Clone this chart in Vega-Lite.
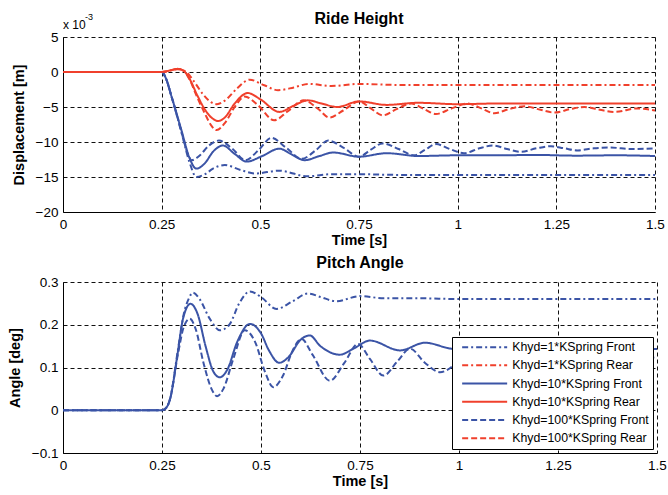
{
"$schema":"https://vega.github.io/schema/vega-lite/v6.json",
"padding":{"top":11,"left":7,"right":6,"bottom":5},
"spacing":8,
"config":{
 "font":"Liberation Sans",
 "view":{"stroke":null},
 "axis":{"labelFont":"Liberation Sans","labelFontSize":13.5,"labelColor":"#000","titleFont":"Liberation Sans","titleFontSize":14.5,"titleFontWeight":"bold","titleColor":"#000","domainColor":"#000","domainWidth":1,"gridColor":"#111","gridDash":[4,3],"gridOpacity":1,"gridWidth":1,"ticks":false,"labelPadding":5,"labelFlush":false},
 "axisX":{"titlePadding":3},
 "axisY":{"titlePadding":9},
 "title":{"font":"Liberation Sans","color":"#000"}
},
"datasets":{
 "ride":[
  {"t":0,"v":0,"s":"Khyd=1*KSpring Front"},{"t":0.25,"v":0,"s":"Khyd=1*KSpring Front"},{"t":0.26,"v":-0.8,"s":"Khyd=1*KSpring Front"},{"t":0.275,"v":-3.5,"s":"Khyd=1*KSpring Front"},{"t":0.3,"v":-8.6,"s":"Khyd=1*KSpring Front"},{"t":0.32,"v":-12.8,"s":"Khyd=1*KSpring Front"},{"t":0.338,"v":-15.0,"s":"Khyd=1*KSpring Front"},{"t":0.36,"v":-14.6,"s":"Khyd=1*KSpring Front"},{"t":0.38,"v":-13.8,"s":"Khyd=1*KSpring Front"},{"t":0.41,"v":-13.3,"s":"Khyd=1*KSpring Front"},{"t":0.45,"v":-14.0,"s":"Khyd=1*KSpring Front"},{"t":0.487,"v":-14.5,"s":"Khyd=1*KSpring Front"},{"t":0.547,"v":-14.1,"s":"Khyd=1*KSpring Front"},{"t":0.62,"v":-14.9,"s":"Khyd=1*KSpring Front"},{"t":0.68,"v":-14.6,"s":"Khyd=1*KSpring Front"},{"t":0.75,"v":-14.6,"s":"Khyd=1*KSpring Front"},{"t":0.85,"v":-14.7,"s":"Khyd=1*KSpring Front"},{"t":1.0,"v":-14.7,"s":"Khyd=1*KSpring Front"},{"t":1.25,"v":-14.7,"s":"Khyd=1*KSpring Front"},{"t":1.5,"v":-14.7,"s":"Khyd=1*KSpring Front"},

  {"t":0,"v":0,"s":"Khyd=1*KSpring Rear"},{"t":0.25,"v":0,"s":"Khyd=1*KSpring Rear"},{"t":0.27,"v":0.2,"s":"Khyd=1*KSpring Rear"},{"t":0.29,"v":0.4,"s":"Khyd=1*KSpring Rear"},{"t":0.31,"v":0.1,"s":"Khyd=1*KSpring Rear"},{"t":0.33,"v":-1.2,"s":"Khyd=1*KSpring Rear"},{"t":0.355,"v":-3.2,"s":"Khyd=1*KSpring Rear"},{"t":0.375,"v":-4.3,"s":"Khyd=1*KSpring Rear"},{"t":0.39,"v":-4.6,"s":"Khyd=1*KSpring Rear"},{"t":0.41,"v":-4.1,"s":"Khyd=1*KSpring Rear"},{"t":0.44,"v":-2.4,"s":"Khyd=1*KSpring Rear"},{"t":0.473,"v":-1.1,"s":"Khyd=1*KSpring Rear"},{"t":0.51,"v":-1.9,"s":"Khyd=1*KSpring Rear"},{"t":0.545,"v":-2.6,"s":"Khyd=1*KSpring Rear"},{"t":0.585,"v":-2.2,"s":"Khyd=1*KSpring Rear"},{"t":0.623,"v":-1.7,"s":"Khyd=1*KSpring Rear"},{"t":0.68,"v":-2.0,"s":"Khyd=1*KSpring Rear"},{"t":0.75,"v":-1.7,"s":"Khyd=1*KSpring Rear"},{"t":0.85,"v":-1.85,"s":"Khyd=1*KSpring Rear"},{"t":1.0,"v":-1.85,"s":"Khyd=1*KSpring Rear"},{"t":1.25,"v":-1.85,"s":"Khyd=1*KSpring Rear"},{"t":1.5,"v":-1.85,"s":"Khyd=1*KSpring Rear"},

  {"t":0,"v":0,"s":"Khyd=10*KSpring Front"},{"t":0.25,"v":0,"s":"Khyd=10*KSpring Front"},{"t":0.26,"v":-0.8,"s":"Khyd=10*KSpring Front"},{"t":0.275,"v":-3.5,"s":"Khyd=10*KSpring Front"},{"t":0.3,"v":-8.3,"s":"Khyd=10*KSpring Front"},{"t":0.32,"v":-12.2,"s":"Khyd=10*KSpring Front"},{"t":0.338,"v":-13.8,"s":"Khyd=10*KSpring Front"},{"t":0.36,"v":-13.0,"s":"Khyd=10*KSpring Front"},{"t":0.38,"v":-11.4,"s":"Khyd=10*KSpring Front"},{"t":0.405,"v":-10.5,"s":"Khyd=10*KSpring Front"},{"t":0.435,"v":-11.7,"s":"Khyd=10*KSpring Front"},{"t":0.465,"v":-12.8,"s":"Khyd=10*KSpring Front"},{"t":0.505,"v":-12.0,"s":"Khyd=10*KSpring Front"},{"t":0.548,"v":-10.95,"s":"Khyd=10*KSpring Front"},{"t":0.58,"v":-11.8,"s":"Khyd=10*KSpring Front"},{"t":0.612,"v":-12.6,"s":"Khyd=10*KSpring Front"},{"t":0.65,"v":-12.0,"s":"Khyd=10*KSpring Front"},{"t":0.685,"v":-11.5,"s":"Khyd=10*KSpring Front"},{"t":0.75,"v":-12.1,"s":"Khyd=10*KSpring Front"},{"t":0.82,"v":-11.6,"s":"Khyd=10*KSpring Front"},{"t":0.9,"v":-12.0,"s":"Khyd=10*KSpring Front"},{"t":1.0,"v":-11.9,"s":"Khyd=10*KSpring Front"},{"t":1.1,"v":-11.9,"s":"Khyd=10*KSpring Front"},{"t":1.2,"v":-11.85,"s":"Khyd=10*KSpring Front"},{"t":1.3,"v":-11.95,"s":"Khyd=10*KSpring Front"},{"t":1.4,"v":-11.9,"s":"Khyd=10*KSpring Front"},{"t":1.5,"v":-12.0,"s":"Khyd=10*KSpring Front"},

  {"t":0,"v":0,"s":"Khyd=10*KSpring Rear"},{"t":0.25,"v":0,"s":"Khyd=10*KSpring Rear"},{"t":0.27,"v":0.2,"s":"Khyd=10*KSpring Rear"},{"t":0.29,"v":0.45,"s":"Khyd=10*KSpring Rear"},{"t":0.305,"v":0.2,"s":"Khyd=10*KSpring Rear"},{"t":0.32,"v":-0.9,"s":"Khyd=10*KSpring Rear"},{"t":0.34,"v":-3.3,"s":"Khyd=10*KSpring Rear"},{"t":0.36,"v":-5.4,"s":"Khyd=10*KSpring Rear"},{"t":0.378,"v":-6.6,"s":"Khyd=10*KSpring Rear"},{"t":0.393,"v":-7.0,"s":"Khyd=10*KSpring Rear"},{"t":0.41,"v":-6.5,"s":"Khyd=10*KSpring Rear"},{"t":0.435,"v":-4.5,"s":"Khyd=10*KSpring Rear"},{"t":0.468,"v":-3.0,"s":"Khyd=10*KSpring Rear"},{"t":0.5,"v":-3.9,"s":"Khyd=10*KSpring Rear"},{"t":0.548,"v":-5.7,"s":"Khyd=10*KSpring Rear"},{"t":0.585,"v":-4.8,"s":"Khyd=10*KSpring Rear"},{"t":0.62,"v":-4.05,"s":"Khyd=10*KSpring Rear"},{"t":0.655,"v":-4.5,"s":"Khyd=10*KSpring Rear"},{"t":0.695,"v":-5.0,"s":"Khyd=10*KSpring Rear"},{"t":0.75,"v":-4.2,"s":"Khyd=10*KSpring Rear"},{"t":0.82,"v":-4.7,"s":"Khyd=10*KSpring Rear"},{"t":0.9,"v":-4.4,"s":"Khyd=10*KSpring Rear"},{"t":1.0,"v":-4.6,"s":"Khyd=10*KSpring Rear"},{"t":1.1,"v":-4.5,"s":"Khyd=10*KSpring Rear"},{"t":1.25,"v":-4.5,"s":"Khyd=10*KSpring Rear"},{"t":1.5,"v":-4.5,"s":"Khyd=10*KSpring Rear"},

  {"t":0,"v":0,"s":"Khyd=100*KSpring Front"},{"t":0.25,"v":0,"s":"Khyd=100*KSpring Front"},{"t":0.26,"v":-0.8,"s":"Khyd=100*KSpring Front"},{"t":0.275,"v":-3.5,"s":"Khyd=100*KSpring Front"},{"t":0.3,"v":-8.5,"s":"Khyd=100*KSpring Front"},{"t":0.315,"v":-11.5,"s":"Khyd=100*KSpring Front"},{"t":0.326,"v":-12.6,"s":"Khyd=100*KSpring Front"},{"t":0.345,"v":-12.0,"s":"Khyd=100*KSpring Front"},{"t":0.37,"v":-10.5,"s":"Khyd=100*KSpring Front"},{"t":0.395,"v":-9.8,"s":"Khyd=100*KSpring Front"},{"t":0.43,"v":-11.0,"s":"Khyd=100*KSpring Front"},{"t":0.462,"v":-12.6,"s":"Khyd=100*KSpring Front"},{"t":0.495,"v":-11.2,"s":"Khyd=100*KSpring Front"},{"t":0.528,"v":-9.4,"s":"Khyd=100*KSpring Front"},{"t":0.565,"v":-10.8,"s":"Khyd=100*KSpring Front"},{"t":0.605,"v":-12.4,"s":"Khyd=100*KSpring Front"},{"t":0.64,"v":-11.2,"s":"Khyd=100*KSpring Front"},{"t":0.672,"v":-9.8,"s":"Khyd=100*KSpring Front"},{"t":0.71,"v":-10.8,"s":"Khyd=100*KSpring Front"},{"t":0.75,"v":-12.1,"s":"Khyd=100*KSpring Front"},{"t":0.78,"v":-11.1,"s":"Khyd=100*KSpring Front"},{"t":0.81,"v":-10.2,"s":"Khyd=100*KSpring Front"},{"t":0.85,"v":-11.0,"s":"Khyd=100*KSpring Front"},{"t":0.89,"v":-11.9,"s":"Khyd=100*KSpring Front"},{"t":0.918,"v":-11.1,"s":"Khyd=100*KSpring Front"},{"t":0.945,"v":-10.3,"s":"Khyd=100*KSpring Front"},{"t":0.98,"v":-11.0,"s":"Khyd=100*KSpring Front"},{"t":1.016,"v":-11.6,"s":"Khyd=100*KSpring Front"},{"t":1.055,"v":-10.9,"s":"Khyd=100*KSpring Front"},{"t":1.09,"v":-10.5,"s":"Khyd=100*KSpring Front"},{"t":1.125,"v":-11.0,"s":"Khyd=100*KSpring Front"},{"t":1.16,"v":-11.4,"s":"Khyd=100*KSpring Front"},{"t":1.2,"v":-10.9,"s":"Khyd=100*KSpring Front"},{"t":1.236,"v":-10.6,"s":"Khyd=100*KSpring Front"},{"t":1.27,"v":-10.9,"s":"Khyd=100*KSpring Front"},{"t":1.304,"v":-11.2,"s":"Khyd=100*KSpring Front"},{"t":1.345,"v":-10.9,"s":"Khyd=100*KSpring Front"},{"t":1.388,"v":-10.8,"s":"Khyd=100*KSpring Front"},{"t":1.44,"v":-11.0,"s":"Khyd=100*KSpring Front"},{"t":1.5,"v":-10.9,"s":"Khyd=100*KSpring Front"},

  {"t":0,"v":0,"s":"Khyd=100*KSpring Rear"},{"t":0.25,"v":0,"s":"Khyd=100*KSpring Rear"},{"t":0.27,"v":0.2,"s":"Khyd=100*KSpring Rear"},{"t":0.29,"v":0.45,"s":"Khyd=100*KSpring Rear"},{"t":0.305,"v":0.2,"s":"Khyd=100*KSpring Rear"},{"t":0.32,"v":-1.0,"s":"Khyd=100*KSpring Rear"},{"t":0.34,"v":-3.6,"s":"Khyd=100*KSpring Rear"},{"t":0.36,"v":-6.0,"s":"Khyd=100*KSpring Rear"},{"t":0.375,"v":-7.6,"s":"Khyd=100*KSpring Rear"},{"t":0.389,"v":-8.3,"s":"Khyd=100*KSpring Rear"},{"t":0.41,"v":-7.3,"s":"Khyd=100*KSpring Rear"},{"t":0.435,"v":-5.0,"s":"Khyd=100*KSpring Rear"},{"t":0.46,"v":-3.5,"s":"Khyd=100*KSpring Rear"},{"t":0.495,"v":-4.8,"s":"Khyd=100*KSpring Rear"},{"t":0.535,"v":-6.9,"s":"Khyd=100*KSpring Rear"},{"t":0.57,"v":-5.6,"s":"Khyd=100*KSpring Rear"},{"t":0.61,"v":-4.05,"s":"Khyd=100*KSpring Rear"},{"t":0.645,"v":-5.2,"s":"Khyd=100*KSpring Rear"},{"t":0.675,"v":-6.5,"s":"Khyd=100*KSpring Rear"},{"t":0.71,"v":-5.5,"s":"Khyd=100*KSpring Rear"},{"t":0.75,"v":-4.2,"s":"Khyd=100*KSpring Rear"},{"t":0.78,"v":-5.2,"s":"Khyd=100*KSpring Rear"},{"t":0.81,"v":-6.2,"s":"Khyd=100*KSpring Rear"},{"t":0.845,"v":-5.3,"s":"Khyd=100*KSpring Rear"},{"t":0.882,"v":-4.5,"s":"Khyd=100*KSpring Rear"},{"t":0.915,"v":-5.3,"s":"Khyd=100*KSpring Rear"},{"t":0.945,"v":-6.0,"s":"Khyd=100*KSpring Rear"},{"t":0.985,"v":-5.2,"s":"Khyd=100*KSpring Rear"},{"t":1.025,"v":-4.5,"s":"Khyd=100*KSpring Rear"},{"t":1.06,"v":-5.2,"s":"Khyd=100*KSpring Rear"},{"t":1.093,"v":-5.9,"s":"Khyd=100*KSpring Rear"},{"t":1.13,"v":-5.3,"s":"Khyd=100*KSpring Rear"},{"t":1.169,"v":-4.9,"s":"Khyd=100*KSpring Rear"},{"t":1.21,"v":-5.4,"s":"Khyd=100*KSpring Rear"},{"t":1.245,"v":-5.8,"s":"Khyd=100*KSpring Rear"},{"t":1.285,"v":-5.3,"s":"Khyd=100*KSpring Rear"},{"t":1.321,"v":-5.0,"s":"Khyd=100*KSpring Rear"},{"t":1.36,"v":-5.4,"s":"Khyd=100*KSpring Rear"},{"t":1.397,"v":-5.7,"s":"Khyd=100*KSpring Rear"},{"t":1.456,"v":-5.2,"s":"Khyd=100*KSpring Rear"},{"t":1.5,"v":-5.5,"s":"Khyd=100*KSpring Rear"}
 ],
 "pitch":[
  {"t":0,"v":0,"s":"Khyd=1*KSpring Front"},{"t":0.25,"v":0,"s":"Khyd=1*KSpring Front"},{"t":0.26,"v":0.005,"s":"Khyd=1*KSpring Front"},{"t":0.27,"v":0.025,"s":"Khyd=1*KSpring Front"},{"t":0.29,"v":0.14,"s":"Khyd=1*KSpring Front"},{"t":0.305,"v":0.225,"s":"Khyd=1*KSpring Front"},{"t":0.318,"v":0.262,"s":"Khyd=1*KSpring Front"},{"t":0.328,"v":0.275,"s":"Khyd=1*KSpring Front"},{"t":0.345,"v":0.26,"s":"Khyd=1*KSpring Front"},{"t":0.37,"v":0.215,"s":"Khyd=1*KSpring Front"},{"t":0.396,"v":0.187,"s":"Khyd=1*KSpring Front"},{"t":0.42,"v":0.2,"s":"Khyd=1*KSpring Front"},{"t":0.445,"v":0.25,"s":"Khyd=1*KSpring Front"},{"t":0.472,"v":0.278,"s":"Khyd=1*KSpring Front"},{"t":0.5,"v":0.265,"s":"Khyd=1*KSpring Front"},{"t":0.539,"v":0.237,"s":"Khyd=1*KSpring Front"},{"t":0.58,"v":0.255,"s":"Khyd=1*KSpring Front"},{"t":0.619,"v":0.273,"s":"Khyd=1*KSpring Front"},{"t":0.65,"v":0.265,"s":"Khyd=1*KSpring Front"},{"t":0.69,"v":0.255,"s":"Khyd=1*KSpring Front"},{"t":0.75,"v":0.267,"s":"Khyd=1*KSpring Front"},{"t":0.81,"v":0.262,"s":"Khyd=1*KSpring Front"},{"t":0.9,"v":0.262,"s":"Khyd=1*KSpring Front"},{"t":1.0,"v":0.26,"s":"Khyd=1*KSpring Front"},{"t":1.25,"v":0.26,"s":"Khyd=1*KSpring Front"},{"t":1.5,"v":0.26,"s":"Khyd=1*KSpring Front"},

  {"t":0,"v":0,"s":"Khyd=10*KSpring Front"},{"t":0.25,"v":0,"s":"Khyd=10*KSpring Front"},{"t":0.26,"v":0.005,"s":"Khyd=10*KSpring Front"},{"t":0.27,"v":0.025,"s":"Khyd=10*KSpring Front"},{"t":0.29,"v":0.136,"s":"Khyd=10*KSpring Front"},{"t":0.303,"v":0.214,"s":"Khyd=10*KSpring Front"},{"t":0.322,"v":0.249,"s":"Khyd=10*KSpring Front"},{"t":0.34,"v":0.225,"s":"Khyd=10*KSpring Front"},{"t":0.36,"v":0.15,"s":"Khyd=10*KSpring Front"},{"t":0.38,"v":0.09,"s":"Khyd=10*KSpring Front"},{"t":0.396,"v":0.077,"s":"Khyd=10*KSpring Front"},{"t":0.415,"v":0.095,"s":"Khyd=10*KSpring Front"},{"t":0.44,"v":0.16,"s":"Khyd=10*KSpring Front"},{"t":0.472,"v":0.202,"s":"Khyd=10*KSpring Front"},{"t":0.5,"v":0.18,"s":"Khyd=10*KSpring Front"},{"t":0.52,"v":0.14,"s":"Khyd=10*KSpring Front"},{"t":0.546,"v":0.111,"s":"Khyd=10*KSpring Front"},{"t":0.57,"v":0.125,"s":"Khyd=10*KSpring Front"},{"t":0.6,"v":0.165,"s":"Khyd=10*KSpring Front"},{"t":0.623,"v":0.175,"s":"Khyd=10*KSpring Front"},{"t":0.65,"v":0.15,"s":"Khyd=10*KSpring Front"},{"t":0.699,"v":0.13,"s":"Khyd=10*KSpring Front"},{"t":0.735,"v":0.145,"s":"Khyd=10*KSpring Front"},{"t":0.775,"v":0.163,"s":"Khyd=10*KSpring Front"},{"t":0.851,"v":0.14,"s":"Khyd=10*KSpring Front"},{"t":0.914,"v":0.158,"s":"Khyd=10*KSpring Front"},{"t":0.98,"v":0.144,"s":"Khyd=10*KSpring Front"},{"t":1.05,"v":0.14,"s":"Khyd=10*KSpring Front"},{"t":1.12,"v":0.147,"s":"Khyd=10*KSpring Front"},{"t":1.2,"v":0.142,"s":"Khyd=10*KSpring Front"},{"t":1.3,"v":0.144,"s":"Khyd=10*KSpring Front"},{"t":1.4,"v":0.143,"s":"Khyd=10*KSpring Front"},{"t":1.5,"v":0.143,"s":"Khyd=10*KSpring Front"},

  {"t":0,"v":0,"s":"Khyd=100*KSpring Front"},{"t":0.25,"v":0,"s":"Khyd=100*KSpring Front"},{"t":0.26,"v":0.005,"s":"Khyd=100*KSpring Front"},{"t":0.27,"v":0.025,"s":"Khyd=100*KSpring Front"},{"t":0.29,"v":0.13,"s":"Khyd=100*KSpring Front"},{"t":0.305,"v":0.195,"s":"Khyd=100*KSpring Front"},{"t":0.32,"v":0.214,"s":"Khyd=100*KSpring Front"},{"t":0.335,"v":0.19,"s":"Khyd=100*KSpring Front"},{"t":0.355,"v":0.11,"s":"Khyd=100*KSpring Front"},{"t":0.375,"v":0.05,"s":"Khyd=100*KSpring Front"},{"t":0.389,"v":0.033,"s":"Khyd=100*KSpring Front"},{"t":0.405,"v":0.05,"s":"Khyd=100*KSpring Front"},{"t":0.43,"v":0.12,"s":"Khyd=100*KSpring Front"},{"t":0.459,"v":0.187,"s":"Khyd=100*KSpring Front"},{"t":0.485,"v":0.16,"s":"Khyd=100*KSpring Front"},{"t":0.51,"v":0.09,"s":"Khyd=100*KSpring Front"},{"t":0.531,"v":0.054,"s":"Khyd=100*KSpring Front"},{"t":0.555,"v":0.08,"s":"Khyd=100*KSpring Front"},{"t":0.58,"v":0.14,"s":"Khyd=100*KSpring Front"},{"t":0.602,"v":0.167,"s":"Khyd=100*KSpring Front"},{"t":0.63,"v":0.13,"s":"Khyd=100*KSpring Front"},{"t":0.674,"v":0.069,"s":"Khyd=100*KSpring Front"},{"t":0.71,"v":0.11,"s":"Khyd=100*KSpring Front"},{"t":0.745,"v":0.155,"s":"Khyd=100*KSpring Front"},{"t":0.775,"v":0.12,"s":"Khyd=100*KSpring Front"},{"t":0.809,"v":0.081,"s":"Khyd=100*KSpring Front"},{"t":0.845,"v":0.115,"s":"Khyd=100*KSpring Front"},{"t":0.876,"v":0.144,"s":"Khyd=100*KSpring Front"},{"t":0.915,"v":0.11,"s":"Khyd=100*KSpring Front"},{"t":0.952,"v":0.089,"s":"Khyd=100*KSpring Front"},{"t":0.986,"v":0.105,"s":"Khyd=100*KSpring Front"},{"t":1.02,"v":0.14,"s":"Khyd=100*KSpring Front"},{"t":1.09,"v":0.1,"s":"Khyd=100*KSpring Front"},{"t":1.16,"v":0.135,"s":"Khyd=100*KSpring Front"},{"t":1.23,"v":0.11,"s":"Khyd=100*KSpring Front"},{"t":1.3,"v":0.13,"s":"Khyd=100*KSpring Front"},{"t":1.37,"v":0.115,"s":"Khyd=100*KSpring Front"},{"t":1.44,"v":0.128,"s":"Khyd=100*KSpring Front"},{"t":1.5,"v":0.122,"s":"Khyd=100*KSpring Front"}
 ]
},
"vconcat":[
 {
  "title":{"text":"Ride Height","fontSize":16,"fontWeight":"bold","frame":"group","baseline":"alphabetic","offset":-27},
  "width":592,"height":175,
  "encoding":{
   "x":{"field":"t","type":"quantitative","scale":{"domain":[0,1.5],"nice":false},"axis":{"title":"Time [s]","values":[0,0.25,0.5,0.75,1,1.25,1.5],"format":".3~g"}},
   "y":{"field":"v","type":"quantitative","scale":{"domain":[-20,5],"nice":false},"axis":{"title":"Displacement [m]","values":[-20,-15,-10,-5,0,5],"format":".3~g"}}
  },
  "layer":[
   {"data":{"name":"ride"},"mark":{"type":"line","strokeWidth":2,"interpolate":"monotone"},
    "encoding":{
     "color":{"field":"s","type":"nominal","legend":null,"scale":{"domain":["Khyd=1*KSpring Front","Khyd=1*KSpring Rear","Khyd=10*KSpring Front","Khyd=10*KSpring Rear","Khyd=100*KSpring Front","Khyd=100*KSpring Rear"],"range":["#3b54a6","#f0402c","#3b54a6","#f0402c","#3b54a6","#f0402c"]}},
     "strokeDash":{"field":"s","type":"nominal","legend":null,"scale":{"domain":["Khyd=1*KSpring Front","Khyd=1*KSpring Rear","Khyd=10*KSpring Front","Khyd=10*KSpring Rear","Khyd=100*KSpring Front","Khyd=100*KSpring Rear"],"range":[[6,3,2,3],[6,3,2,3],[1,0],[1,0],[6,3],[6,3]]}}
    }},
   {"data":{"values":[{"t":0,"v":5,"lab":"x 10"}]},"mark":{"type":"text","align":"left","baseline":"alphabetic","fontSize":12,"dy":-8,"dx":0,"color":"#000"},"encoding":{"text":{"field":"lab"}}},
   {"data":{"values":[{"t":0,"v":5,"lab":"-3"}]},"mark":{"type":"text","align":"left","baseline":"alphabetic","fontSize":9,"dy":-17,"dx":22,"color":"#000"},"encoding":{"text":{"field":"lab"}}}
  ]
 },
 {
  "title":{"text":"Pitch Angle","fontSize":16,"fontWeight":"bold","frame":"group","baseline":"alphabetic","offset":-9},
  "width":594,"height":171,
  "data":{"name":"pitch"},
  "mark":{"type":"line","strokeWidth":2,"interpolate":"monotone"},
  "encoding":{
   "x":{"field":"t","type":"quantitative","scale":{"domain":[0,1.5],"nice":false},"axis":{"title":"Time [s]","values":[0,0.25,0.5,0.75,1,1.25,1.5],"format":".3~g"}},
   "y":{"field":"v","type":"quantitative","scale":{"domain":[-0.1,0.3],"nice":false},"axis":{"title":"Angle [deg]","values":[-0.1,0,0.1,0.2,0.3],"format":".3~g"}},
   "color":{"field":"s","type":"nominal","scale":{"domain":["Khyd=1*KSpring Front","Khyd=1*KSpring Rear","Khyd=10*KSpring Front","Khyd=10*KSpring Rear","Khyd=100*KSpring Front","Khyd=100*KSpring Rear"],"range":["#3b54a6","#f0402c","#3b54a6","#f0402c","#3b54a6","#f0402c"]},
     "legend":{"title":null,"orient":"bottom-right","offset":4,"padding":4,"strokeColor":"#000","fillColor":"#fff","symbolType":"M0,0H9","symbolSize":100,"symbolStrokeWidth":2,"labelFontSize":12.3,"labelFont":"Liberation Sans","labelColor":"#000","labelOffset":44,"rowPadding":5.2,"labelLimit":200}},
   "strokeDash":{"field":"s","type":"nominal","scale":{"domain":["Khyd=1*KSpring Front","Khyd=1*KSpring Rear","Khyd=10*KSpring Front","Khyd=10*KSpring Rear","Khyd=100*KSpring Front","Khyd=100*KSpring Rear"],"range":[[6,3,2,3],[6,3,2,3],[1,0],[1,0],[6,3],[6,3]]},
     "legend":{"title":null,"orient":"bottom-right","offset":4,"padding":4,"strokeColor":"#000","fillColor":"#fff","symbolType":"M0,0H9","symbolSize":100,"symbolStrokeWidth":2,"labelFontSize":12.3,"labelFont":"Liberation Sans","labelColor":"#000","labelOffset":44,"rowPadding":5.2,"labelLimit":200}}
  }
 }
],
"resolve":{"legend":{"color":"independent","strokeDash":"independent"}}
}
